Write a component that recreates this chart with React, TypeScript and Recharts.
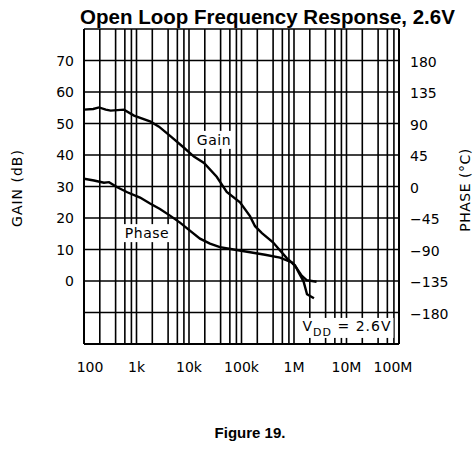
import React from 'react';
import { LineChart, Line, XAxis, YAxis, CartesianGrid, ReferenceDot } from 'recharts';

// gain curve
const gainFreq = [100, 150, 193, 260, 322, 578, 896, 1860, 2680, 4480, 8030, 12400, 19300, 33700, 52300, 93600, 145000, 181000, 245000, 398000, 518000, 736000, 1045000, 1220000, 1520000, 1770000, 2400000];
const gainDb = [54.4, 54.6, 55.1, 54.4, 54.1, 54.4, 52.5, 50.6, 49.0, 45.9, 42.3, 39.5, 37.5, 33.1, 28.3, 25.0, 20.6, 17.4, 15.2, 12.3, 10.1, 7.2, 5.0, 2.8, -0.1, -4.2, -5.5];

// phase curve
const phaseFreq = [100, 155, 240, 300, 430, 668, 1170, 1810, 2800, 4350, 6740, 10400, 16200, 25100, 38800, 75300, 146000, 281000, 541000, 910000, 1100000, 1400000, 1740000, 2690000];
const phaseDeg = [11.0, 8.6, 5.3, 6.2, -1.0, -8.2, -15.8, -24.4, -32.2, -41.6, -51.6, -63.1, -74.5, -81.7, -86.7, -90.3, -93.9, -97.5, -101.7, -108.5, -115.6, -127.5, -133.7, -136.1];

const decades = [100, 1e3, 1e4, 1e5, 1e6, 1e7, 1e8];
const decadeLabels = ['100', '1k', '10k', '100k', '1M', '10M', '100M'];
const minorSteps = [2, 4, 6, 8];
const gainTicks = [-20, -10, 0, 10, 20, 30, 40, 50, 60, 70, 80];
const gainLabelled = [0, 10, 20, 30, 40, 50, 60, 70];
const phaseTicks = [-180, -135, -90, -45, 0, 45, 90, 135, 180];

const freqTicks = decades.flatMap((d, i) => (i < decades.length - 1 ? [d, ...minorSteps.map((m) => d * m)] : [d]));

const gainData = gainFreq.map((f, i) => ({ f, gain: gainDb[i] }));
const phaseData = phaseFreq.map((f, i) => ({ f, phase: phaseDeg[i] }));

const tickFont = '"DejaVu Sans", sans-serif';

const XTick = (props: any) => {
  const { x, y, payload } = props;
  const idx = decades.indexOf(payload.value);
  if (idx < 0) return null;
  let dx = 0;
  if (idx === 0) dx = 6;
  if (idx === decades.length - 1) dx = -6;
  return (
    <text x={x + dx} y={y + 28} textAnchor="middle" fontFamily={tickFont} fontSize={14} fill="#000">
      {decadeLabels[idx]}
    </text>
  );
};

const GainTick = (props: any) => {
  const { x, y, payload } = props;
  if (!gainLabelled.includes(payload.value)) return null;
  return (
    <text x={x - 10} y={y + 5} textAnchor="end" fontFamily={tickFont} fontSize={14} fill="#000">
      {payload.value}
    </text>
  );
};

const PhaseTick = (props: any) => {
  const { x, y, payload } = props;
  const v = payload.value;
  return (
    <text x={x + 11} y={y + 6} textAnchor="start" fontFamily={tickFont} fontSize={14} fill="#000">
      {v < 0 ? '\u2212' + Math.abs(v) : String(v)}
    </text>
  );
};

const boxed = (text: string, w: number) => (props: any) => {
  const { cx, cy } = props;
  return (
    <g>
      <rect x={cx - w / 2} y={cy - 9} width={w} height={18} fill="#fff" />
      <text x={cx} y={cy + 5} textAnchor="middle" fontFamily={tickFont} fontSize={14} letterSpacing={0.5} fill="#000">
        {text}
      </text>
    </g>
  );
};

const VddLabel = (props: any) => {
  const { cx, cy } = props;
  return (
    <g>
      <rect x={cx - 46} y={cy - 10} width={92} height={20} fill="#fff" />
      <text x={cx - 45} y={cy + 3.5} fontFamily={tickFont} fontSize={14} letterSpacing={1} fill="#000">
        <tspan>V</tspan>
        <tspan dy={4.5} fontSize={11}>DD</tspan>
        <tspan dy={-4.5}> = 2.6V</tspan>
      </text>
    </g>
  );
};

export default function App() {
  return (
    <div style={{ position: 'absolute', left: 0, top: 0, width: 475, height: 450, background: '#fff' }}>
      <LineChart width={475} height={450} margin={{ top: 29, right: 0, bottom: 76, left: 0 }}>
        <CartesianGrid yAxisId="gain" stroke="#000" strokeWidth={1.6} />
        <XAxis
          dataKey="f"
          type="number"
          scale="log"
          domain={[100, 1e8]}
          ticks={freqTicks}
          allowDataOverflow
          height={30}
          tickLine={false}
          tickSize={0}
          tickMargin={0}
          axisLine={{ stroke: '#000', strokeWidth: 2 }}
          tick={XTick}
          interval={0}
        />
        <YAxis
          yAxisId="gain"
          orientation="left"
          width={84}
          domain={[-20, 80]}
          ticks={gainTicks}
          allowDataOverflow
          tickLine={false}
          tickSize={0}
          tickMargin={0}
          axisLine={{ stroke: '#000', strokeWidth: 2 }}
          tick={GainTick}
          interval={0}
        />
        <YAxis
          yAxisId="phase"
          orientation="right"
          width={76}
          domain={[-225, 225]}
          ticks={phaseTicks}
          allowDataOverflow
          tickLine={false}
          tickSize={0}
          tickMargin={0}
          axisLine={{ stroke: '#000', strokeWidth: 2 }}
          tick={PhaseTick}
          interval={0}
        />
        <Line yAxisId="gain" data={gainData} dataKey="gain" type="linear" stroke="#000" strokeWidth={2.4} dot={false} isAnimationActive={false} />
        <Line yAxisId="phase" data={phaseData} dataKey="phase" type="linear" stroke="#000" strokeWidth={2.4} dot={false} isAnimationActive={false} />
        <ReferenceDot yAxisId="gain" x={29900} y={44.8} r={0} shape={boxed('Gain', 38)} />
        <ReferenceDot yAxisId="gain" x={1585} y={15.2} r={0} shape={boxed('Phase', 50)} />
        <ReferenceDot yAxisId="gain" x={1.045e7} y={-14.9} r={0} shape={VddLabel} />
      </LineChart>
      <svg width={475} height={450} style={{ position: 'absolute', left: 0, top: 0, pointerEvents: 'none' }}>
        <text x={267.5} y={24} textAnchor="middle" fontFamily='"Liberation Sans", Arial, sans-serif' fontWeight="bold" fontSize={20.5} fill="#000">
          Open Loop Frequency Response, 2.6V
        </text>
        <text transform="translate(17,188) rotate(-90)" y={5} textAnchor="middle" fontFamily={tickFont} fontSize={14} letterSpacing={1} fill="#000">
          GAIN (dB)
        </text>
        <text transform="translate(465,190) rotate(-90)" y={5} textAnchor="middle" fontFamily={tickFont} fontSize={14} letterSpacing={0.5} fill="#000">
          PHASE (°C)
        </text>
        <text x={250} y={438} textAnchor="middle" fontFamily='"Liberation Sans", Arial, sans-serif' fontWeight="bold" fontSize={15} fill="#000">
          Figure 19.
        </text>
      </svg>
    </div>
  );
}
